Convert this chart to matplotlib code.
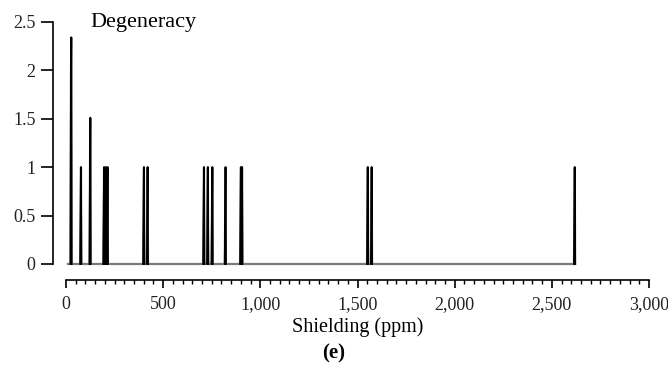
import matplotlib.pyplot as plt
import numpy as np

# --- data ---
peak_shielding = [27, 77, 125, 196, 206, 214, 401, 420, 710, 730, 753, 821, 900, 906, 1553, 1573, 2618]
peak_degeneracy = [2.34, 1.0, 1.51, 1.0, 1.0, 1.0, 1.0, 1.0, 1.0, 1.0, 1.0, 1.0, 1.0, 1.0, 1.0, 1.0, 1.0]
shoulder_degeneracy = [1.9, 0.64, 1.0, 0.64, 0.64, 0.64, 0.64, 0.64, 0.64, 0.68, 0.64, 0.64, 0.64, 0.64, 0.64, 0.64, 0.64]
baseline_start = 10

y_ticks = [0, 0.5, 1, 1.5, 2, 2.5]
y_tick_labels = ['0', '0.5', '1', '1.5', '2', '2.5']
x_ticks = [0, 500, 1000, 1500, 2000, 2500, 3000]
x_tick_labels = ['0', '500', '1,000', '1,500', '2,000', '2,500', '3,000']

# build the stick spectrum: full line + peaks only (NaN separated)
xs = [baseline_start]
ys = [0]
px, py = [], []
for p, h, s in zip(peak_shielding, peak_degeneracy, shoulder_degeneracy):
    xs += [p - 4, p - 1.5, p, p + 2]
    ys += [0, s, h, 0]
    px += [p - 4, p - 1.5, p, p + 2, np.nan]
    py += [0, s, h, 0, np.nan]

plt.rcParams['font.family'] = ['Liberation Serif', 'DejaVu Serif']

fig = plt.figure(figsize=(6.68, 3.72), dpi=100)
ax = fig.add_axes([66 / 668, 1 - 264 / 372, 583 / 668, 242 / 372])

ax.plot(xs, ys, color='#7a7a7a', lw=1.6, clip_on=False)
ax.plot(px, py, color='black', lw=1.3, clip_on=False)

ax.set_xlim(0, 3000)
ax.set_ylim(0, 2.5)

for side in ['top', 'right']:
    ax.spines[side].set_visible(False)
ax.spines['left'].set_position(('outward', 9.4))
ax.spines['bottom'].set_position(('outward', 11.5))
ax.spines['left'].set_linewidth(1.2)
ax.spines['bottom'].set_linewidth(1.2)

ax.set_yticks(y_ticks)
ax.set_yticklabels(y_tick_labels)
ax.set_xticks(x_ticks)
ax.set_xticklabels(x_tick_labels)
ax.set_xticks(np.arange(0, 3001, 50), minor=True)

ax.tick_params(axis='y', direction='out', length=8.6, width=1.2, pad=4, labelsize=13, labelcolor='#222222')
ax.tick_params(axis='x', which='major', direction='out', length=5.8, width=1.2, pad=6, labelsize=13, labelcolor='#222222')
ax.tick_params(axis='x', which='minor', direction='out', length=2.9, width=1.0)

ax.set_xlabel('Shielding (ppm)', fontsize=14.5, labelpad=3)
ax.text(0.041, 1.0, 'Degeneracy', transform=ax.transAxes, fontsize=16, va='center', ha='left')
fig.text(0.5, 1 - 353 / 372, '(e)', fontsize=15, fontweight='bold', ha='center', va='center')

fig.savefig('out.png', dpi=100)
